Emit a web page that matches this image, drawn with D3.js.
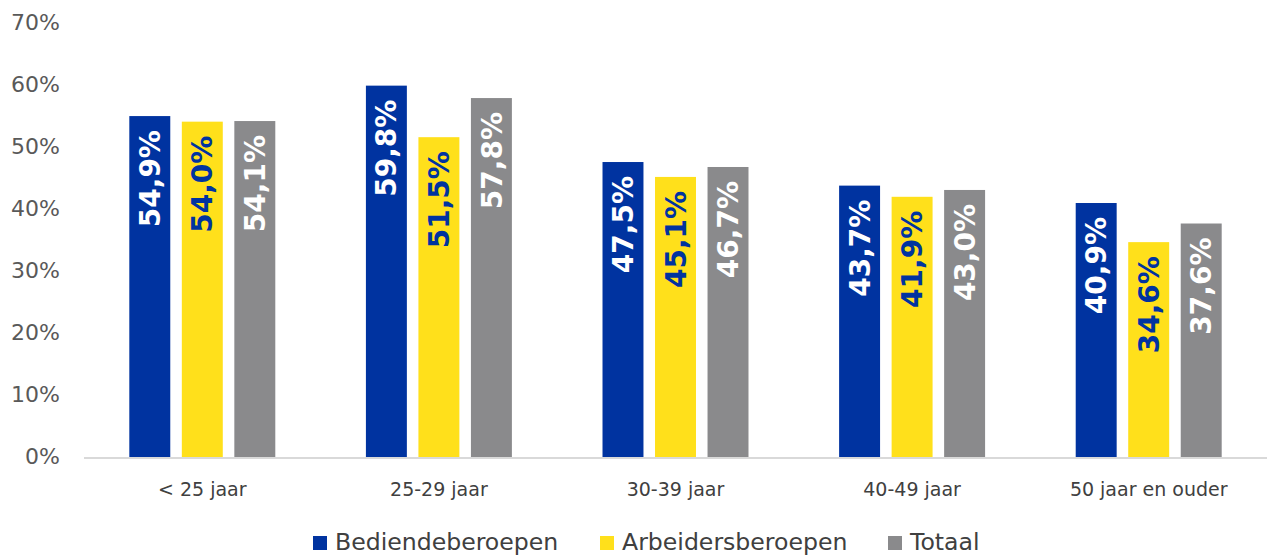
<!DOCTYPE html>
<html>
<head>
<meta charset="utf-8">
<script src="https://cdn.jsdelivr.net/npm/d3@7"></script>
<style>
  body { margin: 0; background: #fff; }
  svg { display: block; }
</style>
</head>
<body>
<div id="chart"></div>
<script>
// data
var categories = ["< 25 jaar", "25-29 jaar", "30-39 jaar", "40-49 jaar", "50 jaar en ouder"];
var seriesNames = ["Bediendeberoepen", "Arbeidersberoepen", "Totaal"];
var bediende = [54.9, 59.8, 47.5, 43.7, 40.9];
var arbeiders = [54.0, 51.5, 45.1, 41.9, 34.6];
var totaal = [54.1, 57.8, 46.7, 43.0, 37.6];
var yTicks = [0, 10, 20, 30, 40, 50, 60, 70];

var colors = ["#0033a0", "#ffe01b", "#8a8a8c"];
var labelColors = ["#ffffff", "#0033a0", "#ffffff"];
var seriesValues = [bediende, arbeiders, totaal];

var width = 1267, height = 556;
var font = "'DejaVu Sans', sans-serif";
var svg = d3.select("#chart").append("svg")
  .attr("width", width)
  .attr("height", height);

var x = d3.scaleBand()
  .domain(categories)
  .range([84, 1267])
  .paddingInner(0.383)
  .paddingOuter(0.383 / 2);

var xSub = d3.scaleBand()
  .domain(seriesNames)
  .range([0, x.bandwidth()])
  .paddingInner(0.22);

var y = d3.scaleLinear()
  .domain([0, 70])
  .range([457, 22.3]);

// y tick labels (no gridlines)
svg.append("g")
  .selectAll("text")
  .data(yTicks)
  .join("text")
  .attr("x", 60)
  .attr("y", d => y(d))
  .attr("dy", "0.34em")
  .attr("text-anchor", "end")
  .style("font-family", font)
  .style("font-size", "22px")
  .style("fill", "#595959")
  .text(d => d + "%");

// flatten to one record per bar
var bars = [];
categories.forEach(function (c, i) {
  seriesNames.forEach(function (s, j) {
    bars.push({ cat: c, series: s, idx: j, value: seriesValues[j][i] });
  });
});

var g = svg.append("g");

g.selectAll("rect")
  .data(bars)
  .join("rect")
  .attr("x", d => x(d.cat) + xSub(d.series))
  .attr("y", d => y(d.value))
  .attr("width", xSub.bandwidth())
  .attr("height", d => y(0) - y(d.value))
  .style("fill", d => colors[d.idx]);

// value labels, rotated inside the top of each bar
g.selectAll("text.val")
  .data(bars)
  .join("text")
  .attr("class", "val")
  .attr("transform", function (d) {
    var cx = x(d.cat) + xSub(d.series) + xSub.bandwidth() / 2;
    return "translate(" + cx + "," + (y(d.value) + 14) + ") rotate(-90)";
  })
  .attr("dy", "0.36em")
  .attr("text-anchor", "end")
  .style("font-family", font)
  .style("font-weight", "bold")
  .style("font-size", "28px")
  .style("fill", d => labelColors[d.idx])
  .text(d => d.value.toFixed(1).replace(".", ",") + "%");

// baseline
svg.append("line")
  .attr("x1", 84)
  .attr("x2", 1267)
  .attr("y1", y(0) + 1)
  .attr("y2", y(0) + 1)
  .style("stroke", "#d9d9d9")
  .style("stroke-width", 2);

// category labels
svg.append("g")
  .selectAll("text")
  .data(categories)
  .join("text")
  .attr("x", d => x(d) + x.bandwidth() / 2)
  .attr("y", 496)
  .attr("text-anchor", "middle")
  .style("font-family", font)
  .style("font-size", "19px")
  .style("fill", "#404040")
  .text(d => d);

// legend
var legendX = [313, 600, 888];
var legend = svg.append("g")
  .selectAll("g")
  .data(seriesNames)
  .join("g")
  .attr("transform", (d, i) => "translate(" + legendX[i] + ",550)");

legend.append("rect")
  .attr("x", 0)
  .attr("y", -14)
  .attr("width", 14)
  .attr("height", 14)
  .style("fill", (d, i) => colors[i]);

legend.append("text")
  .attr("x", 22)
  .attr("y", 0)
  .style("font-family", font)
  .style("font-size", "23.6px")
  .style("fill", "#404040")
  .text(d => d);
</script>
</body>
</html>
